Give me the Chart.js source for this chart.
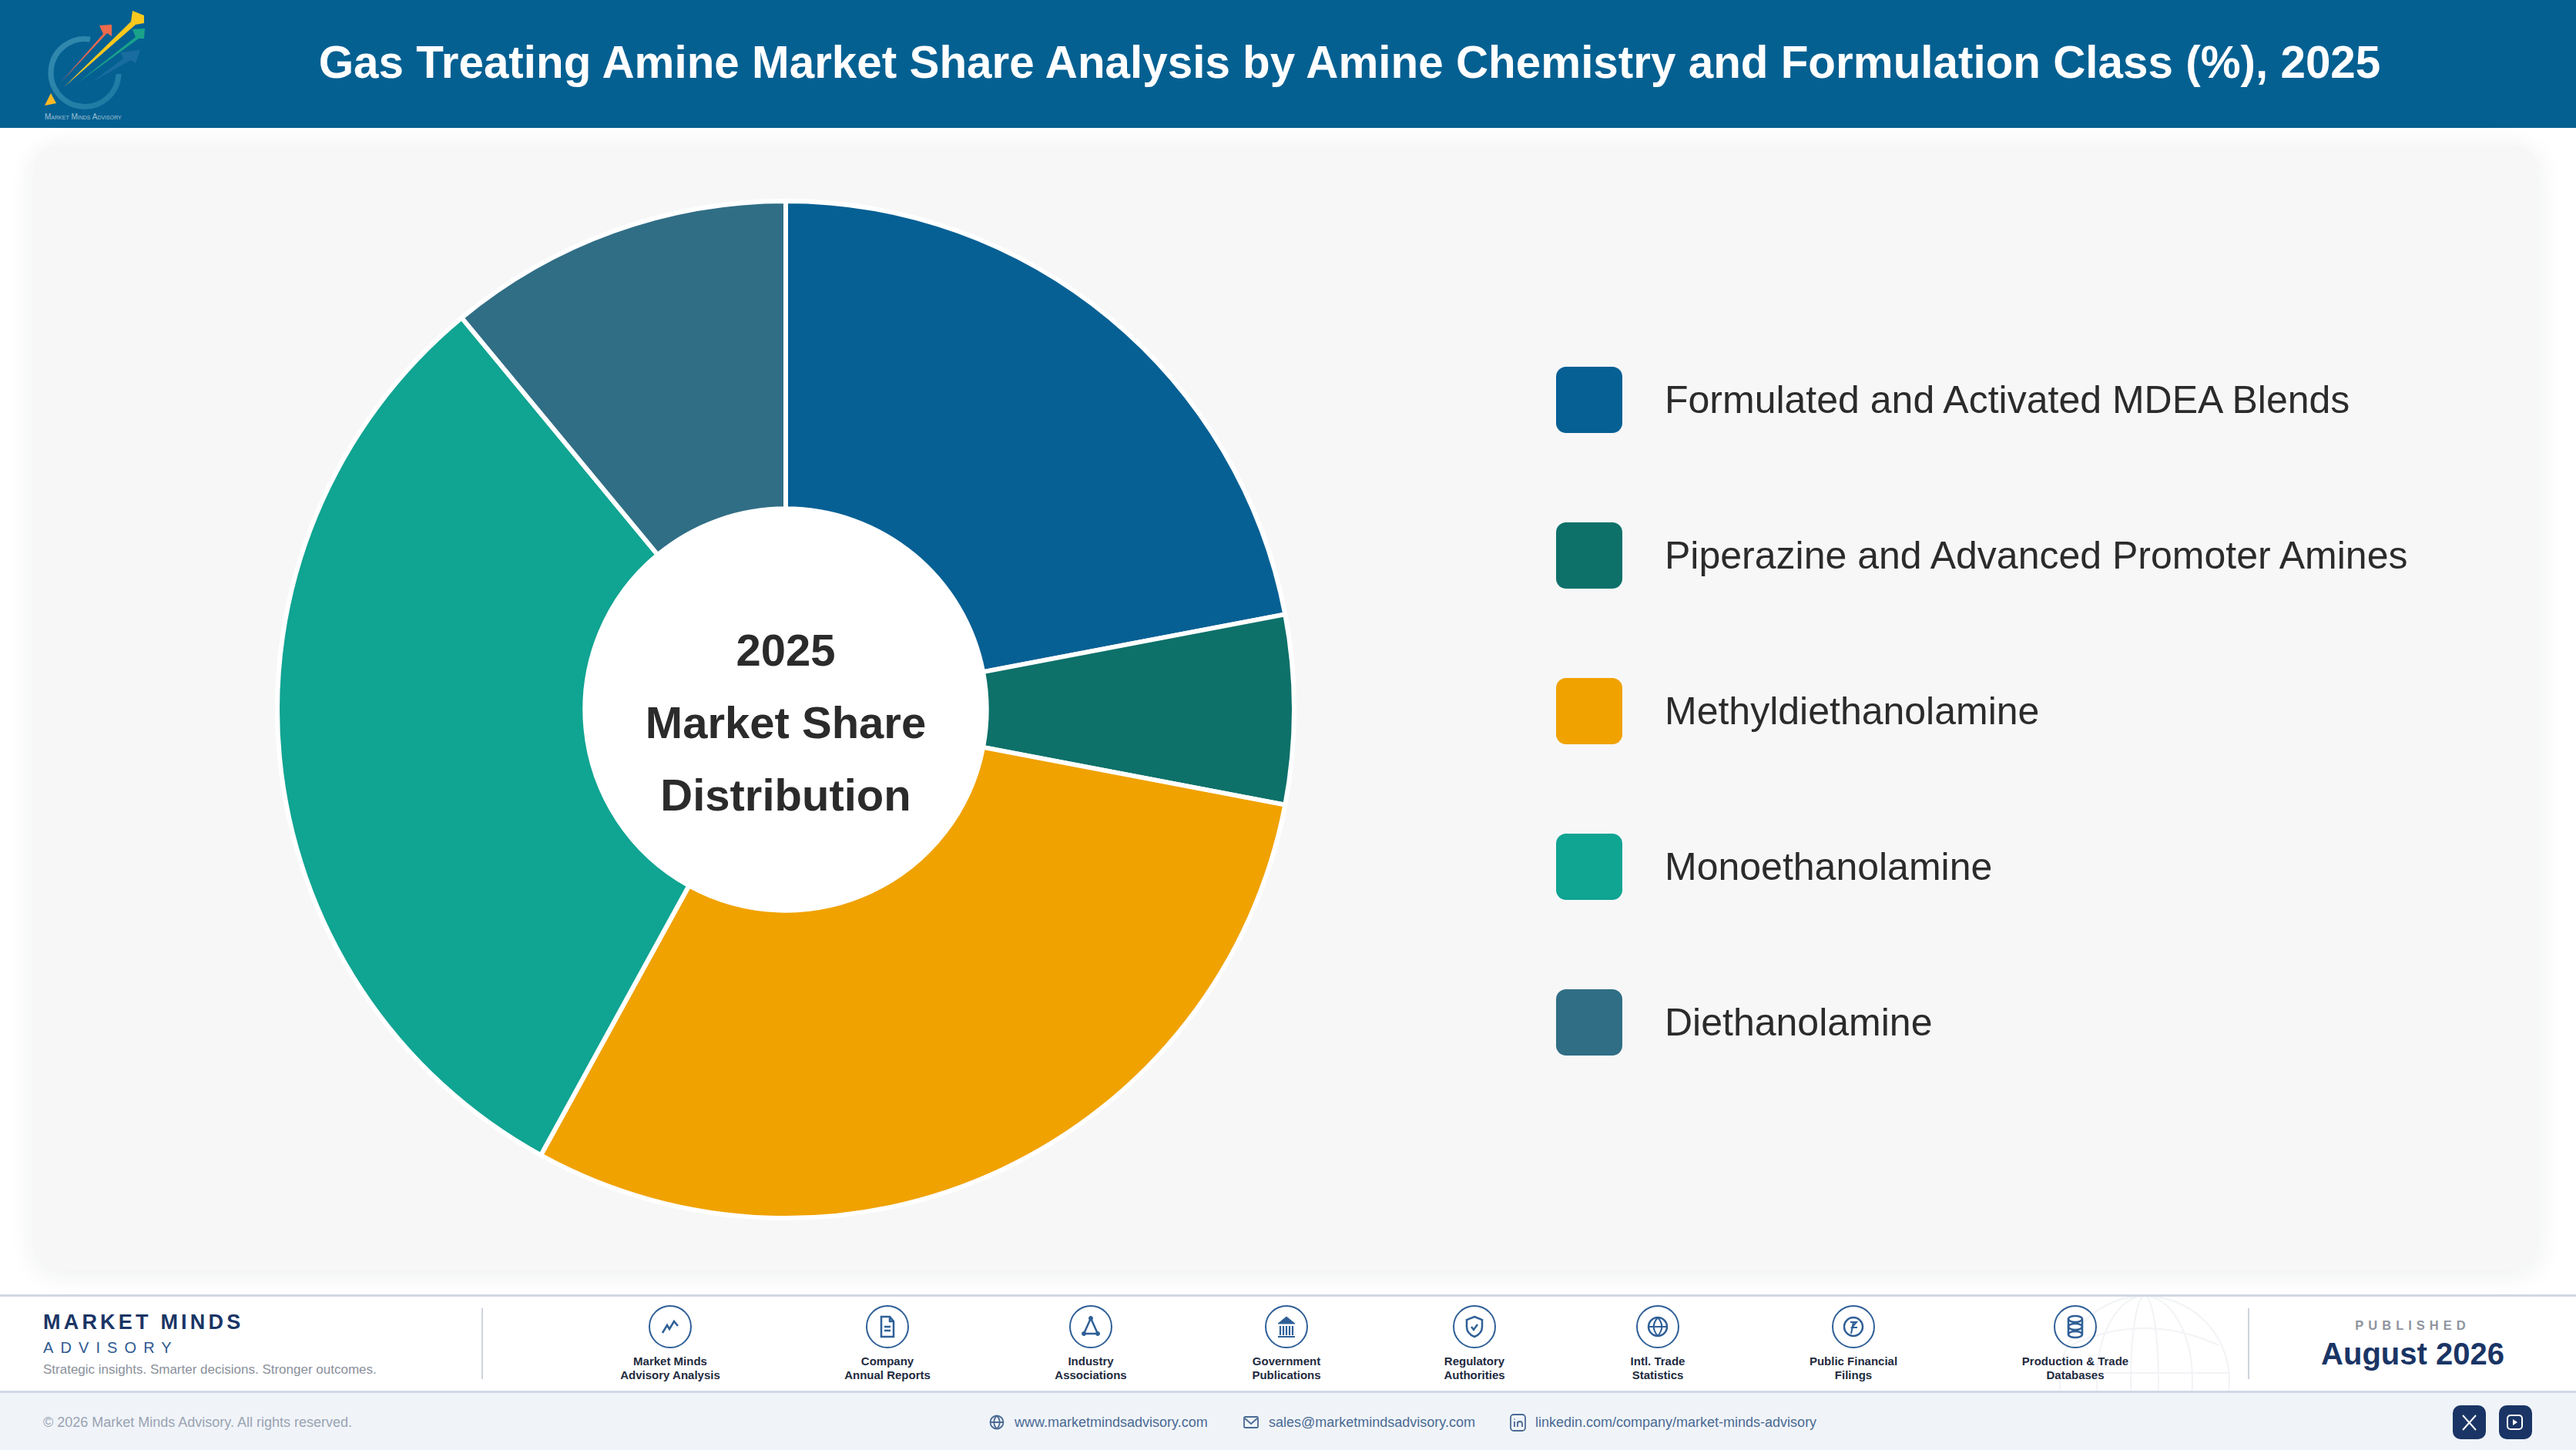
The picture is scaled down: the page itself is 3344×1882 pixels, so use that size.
<!DOCTYPE html>
<html>
<head>
<meta charset="utf-8">
<title>Gas Treating Amine Market Share</title>
<script src="https://cdn.jsdelivr.net/npm/chart.js@4"></script>
<style>
html,body{margin:0;padding:0;background:#fff;width:3344px;height:1882px;overflow:hidden;font-family:"Liberation Sans",Arial,sans-serif}
.abs{position:absolute;white-space:nowrap}
.ctr{transform:translateX(-50%);text-align:center}
#head{position:absolute;left:0;top:0;width:3344px;height:166px;background:#056092}
#card{position:absolute;left:44px;top:188px;width:3251px;height:1461px;background:#f7f7f8;border-radius:32px;box-shadow:0 4px 34px rgba(30,40,60,.08)}
#strip{position:absolute;left:0;top:1680px;width:3344px;height:128px;border-top:3px solid #d2d7e5;border-bottom:3px solid #d2d7e5;box-sizing:border-box;overflow:hidden;background:#fff}
#bar{position:absolute;left:0;top:1808px;width:3344px;height:74px;background:#f0f4f9}
.sw{position:absolute;left:2020px;width:86px;height:86px;border-radius:13px}
.lg{position:absolute;left:2161px;height:86px;line-height:86px;font-size:50px;color:#2b2b2b;white-space:nowrap}
.src{font-weight:700;font-size:15px;line-height:18px;color:#1f2b40}
.lk{font-size:18px;line-height:24px;color:#4a6a93}
svg{position:absolute;overflow:visible}
</style>
</head>
<body>
<div id="head">
  <svg style="left:0;top:0" width="300" height="166" viewBox="0 0 300 166">
    <defs><linearGradient id="ring" x1="0" y1="0" x2="1" y2="1"><stop offset="0" stop-color="#3d92b4"/><stop offset="1" stop-color="#1f7ea6"/></linearGradient></defs>
    <path d="M117 51 A44 44 0 1 0 154 96" fill="none" stroke="url(#ring)" stroke-width="7" opacity=".85"/>
    <path d="M120 106 L160 76 L156 68 L182 65 L176 82 L170 78 Z" fill="#1c6ea1" opacity=".9"/>
    <path d="M100 108 L176 48 L172 38 L188 37 L187 50 L180 50 Z" fill="#1aa28a"/>
    <path d="M83 113 L170 28 L172 14 L187 20 L187 30 L176 32 Z" fill="#fac81e"/>
    <path d="M79 107 L134 44 L129 33 L145 32 L145 47 L139 43 Z" fill="#ee6a4c"/>
    <path d="M58 137 L66 121 L73 134 Z" fill="#fbb926"/>
    <text x="58" y="155" font-size="10" fill="#9fc0d2" style="font-variant:small-caps">Market Minds Advisory</text>
  </svg>
  <div id="title" class="abs" style="left:1752px;top:41px;height:80px;line-height:80px;font-size:60px;font-weight:700;color:#fff;transform:translateX(-50%) scaleX(.973)"></div>
</div>
<div id="card"></div>
<canvas id="shareChart" style="position:absolute;left:357px;top:258px;width:1326px;height:1326px"></canvas>
<div id="legend"></div>
<div id="strip">
  <svg style="left:2674px;top:-3px" width="220" height="128" viewBox="0 0 220 128" fill="none" stroke="#1a3565" stroke-width="2" opacity=".05">
    <circle cx="110" cy="112" r="110"/><ellipse cx="110" cy="112" rx="62" ry="110"/><ellipse cx="110" cy="112" rx="18" ry="110"/>
    <path d="M0 102H220M14 66Q110 22 206 66"/>
  </svg>
</div>
<div id="sources"></div>
<div class="abs" style="left:56px;top:1698px;line-height:36px;font-size:27px;font-weight:700;letter-spacing:4.2px;color:#1a3565">MARKET MINDS</div>
<div class="abs" style="left:56px;top:1736px;line-height:26px;font-size:20px;letter-spacing:9.1px;color:#2f5a92">ADVISORY</div>
<div class="abs" style="left:56px;top:1766px;line-height:24px;font-size:17px;color:#8a909b">Strategic insights. Smarter decisions. Stronger outcomes.</div>
<div class="abs" style="left:625px;top:1698px;width:2px;height:92px;background:#cdd4dd"></div>
<div class="abs" style="left:2918px;top:1698px;width:2px;height:92px;background:#cdd4dd"></div>
<div class="abs ctr" style="left:3132px;top:1709px;line-height:22px;font-size:16.5px;font-weight:700;letter-spacing:6px;color:#8f949e">PUBLISHED</div>
<div class="abs ctr" style="left:3132px;top:1731px;line-height:52px;font-size:40px;font-weight:700;color:#1a3565">August 2026</div>
<div id="bar"></div>
<div class="abs" style="left:56px;top:1834px;line-height:24px;font-size:18px;color:#9aa3b2">© 2026 Market Minds Advisory. All rights reserved.</div>
<div id="links"></div>
<div class="abs" style="left:3184px;top:1824px;width:43px;height:44px;border-radius:10px;background:#1a3565"></div>
<div class="abs" style="left:3244px;top:1824px;width:43px;height:44px;border-radius:10px;background:#1a3565"></div>
<svg style="left:3184px;top:1824px" width="103" height="44" viewBox="0 0 103 44" fill="none" stroke="#fff" stroke-width="2">
  <path d="M13 13L30 32M30 13L13 32"/>
  <rect x="71" y="13" width="19" height="18" rx="4"/><path d="M78 18l6 4-6 4z" fill="#fff" stroke="none"/>
</svg>
<script>
const titleText='Gas Treating Amine Market Share Analysis by Amine Chemistry and Formulation Class (%), 2025';
const categories=['Formulated and Activated MDEA Blends','Piperazine and Advanced Promoter Amines','Methyldiethanolamine','Monoethanolamine','Diethanolamine'];
const shares=[22,6,30,31,11];
const colors=['#066094','#0d7169','#f0a200','#10a492','#306e85'];
const centerLines=['2025','Market Share','Distribution'];
const sourceLabels=[['Market Minds','Advisory Analysis'],['Company','Annual Reports'],['Industry','Associations'],['Government','Publications'],['Regulatory','Authorities'],['Intl. Trade','Statistics'],['Public Financial','Filings'],['Production & Trade','Databases']];
const linkLabels=['www.marketmindsadvisory.com','sales@marketmindsadvisory.com','linkedin.com/company/market-minds-advisory'];

document.getElementById('title').textContent=titleText;

// legend
document.getElementById('legend').innerHTML=categories.map((c,i)=>{
  const y=476+i*202;
  return `<div class="sw" style="top:${y}px;background:${colors[i]}"></div><div class="lg" style="top:${y}px">${c}</div>`;
}).join('');

// source strip icons, drawn in a 56 box
const ICONS=[
  '<path d="M18 36l6-10 3 5 6-10 5 6" stroke-width="2.5"/>',
  '<path d="M20 15h11l5 6v20H20zM31 15v6h5M24 28h8M24 33h8" stroke-width="2.5"/>',
  '<path d="M28 17L19 37H37Z" stroke-width="2.5"/><circle cx="28" cy="17" r="2.5" fill="#2f5f97"/><circle cx="19" cy="37" r="2.5" fill="#2f5f97"/><circle cx="37" cy="37" r="2.5" fill="#2f5f97"/>',
  '<path d="M17 24L28 15l11 9z" fill="#2f5f97"/><path d="M20 27v12M24 27v12M28 27v12M32 27v12M36 27v12M17 41h22" stroke-width="2.2"/>',
  '<path d="M28 15l10 4v9c0 7-5 11-10 13-5-2-10-6-10-13v-9zM24 28l3 4 5-7" stroke-width="2.5"/>',
  '<circle cx="28" cy="28" r="12" stroke-width="2.5"/><path d="M16 28h24M28 16c-7 8-7 16 0 24M28 16c7 8 7 16 0 24" stroke-width="2"/>',
  '<circle cx="28" cy="28" r="12" stroke-width="2.5"/><path d="M24 22h8l-6 7h7M25 37l3-15" stroke-width="2"/>',
  '<ellipse cx="28" cy="18" rx="9" ry="4" stroke-width="2.5"/><ellipse cx="28" cy="28" rx="9" ry="4" stroke-width="2.5"/><ellipse cx="28" cy="38" rx="9" ry="4" stroke-width="2.5"/><path d="M19 18v20M37 18v20" stroke-width="2.5"/>'
];
const sourceX=[870,1152,1416,1670,1914,2152,2406,2694];
document.getElementById('sources').innerHTML=sourceLabels.map((l,i)=>`
  <svg style="left:${sourceX[i]-28}px;top:1694px" width="56" height="56" viewBox="0 0 56 56" fill="none" stroke="#2f5f97">
    <circle cx="28" cy="28" r="27" stroke-width="2"/>${ICONS[i]}
  </svg>
  <div class="abs ctr src" style="left:${sourceX[i]}px;top:1758px">${l[0].replace('&','&amp;')}<br>${l[1]}</div>`).join('');

// contact links
const linkX=[1317,1647,1993];
const LINK_ICONS=[
  '<circle cx="10" cy="10" r="8.5"/><path d="M1.500 10h17M10 1.500c-5 5-5 12 0 17M10 1.500c5 5 5 12 0 17"/>',
  '<rect x="1" y="3" width="18" height="14" rx="1.500"/><path d="M2 5l8 7 8-7"/>',
  '<rect x="1" y="0" width="19" height="21" rx="4"/><path d="M6 9v7M6 5.500v1M10 16V9M10 12c0-4 6-4 6 0v4"/>'
];
document.getElementById('links').innerHTML=linkLabels.map((t,i)=>`
  <svg style="left:${linkX[i]-33}px;top:1836px" width="20" height="20" viewBox="0 0 20 20" fill="none" stroke="#4a6a93" stroke-width="1.8">${LINK_ICONS[i]}</svg>
  <div class="abs lk" style="left:${linkX[i]}px;top:1834px">${t}</div>`).join('');

// white hole + centre label
const centerLabel={
  id:'centerLabel',
  beforeDatasetsDraw(chart){
    const a=chart.getDatasetMeta(0).data[0], c=chart.ctx;
    c.save();c.fillStyle='#fff';c.beginPath();c.arc(a.x,a.y,a.innerRadius,0,Math.PI*2);c.fill();c.restore();
  },
  afterDatasetsDraw(chart){
    const a=chart.getDatasetMeta(0).data[0], c=chart.ctx;
    c.save();c.fillStyle='#2b2b2b';c.textAlign='center';c.textBaseline='middle';
    c.font='700 58px "Liberation Sans"';
    centerLines.forEach((t,i)=>c.fillText(t,a.x,a.y+21+(i-1)*94));
    c.restore();
  }
};

new Chart(document.getElementById('shareChart'),{
  type:'doughnut',
  data:{labels:categories,datasets:[{data:shares,backgroundColor:colors,borderColor:'#fff',borderWidth:6,hoverOffset:0}]},
  options:{responsive:false,animation:false,cutout:'39.5%',layout:{padding:0},plugins:{legend:{display:false},tooltip:{enabled:false},title:{display:false}}},
  plugins:[centerLabel]
});
</script>
</body>
</html>
